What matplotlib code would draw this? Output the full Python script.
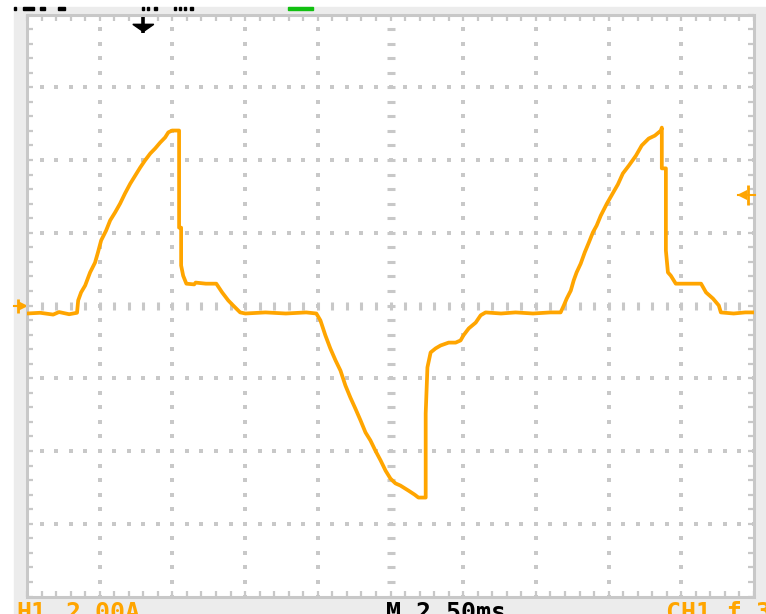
import numpy as np
import matplotlib.pyplot as plt
from matplotlib.patches import Rectangle, Polygon

# CH1 current trace
time_ms = [0.00, 0.45, 0.90, 1.10, 1.45, 1.72,
           1.76, 1.86, 2.00, 2.17, 2.34, 2.44, 2.55, 2.72, 2.86, 3.03, 3.20, 3.37,
           3.55, 3.72, 3.89, 4.06, 4.24, 4.41, 4.58, 4.75, 4.86, 4.99, 5.23, 5.23,
           5.30, 5.30, 5.37, 5.48, 5.75, 5.80, 6.15, 6.51, 6.71, 6.92, 7.09, 7.33,
           7.51, 8.20, 8.90, 9.60, 9.95, 10.09, 10.26, 10.43, 10.61, 10.78, 10.95,
           11.12, 11.29, 11.47, 11.64, 11.81, 11.98, 12.16, 12.33, 12.50, 12.67,
           12.84, 13.12, 13.33, 13.46, 13.71, 13.71, 13.77, 13.88, 14.05, 14.22,
           14.50, 14.74, 14.91, 15.01, 15.19, 15.43, 15.60, 15.77, 16.30, 16.80,
           17.40, 18.00, 18.35, 18.46, 18.56, 18.70, 18.80, 18.90, 19.04, 19.18,
           19.32, 19.46, 19.59, 19.73, 19.94, 20.14, 20.32, 20.49, 20.70, 20.94,
           21.14, 21.38, 21.59, 21.80, 21.83, 21.83, 21.97, 21.97, 22.04, 22.14,
           22.31, 22.70, 23.18, 23.35, 23.59, 23.79, 23.86, 24.30, 24.70, 25.00]
current_a = [-0.22, -0.20, -0.25, -0.18, -0.24, -0.20,
             0.14, 0.36, 0.55, 0.91, 1.18, 1.46, 1.79, 2.06, 2.34, 2.56, 2.80, 3.08,
             3.35, 3.57, 3.79, 3.99, 4.18, 4.32, 4.48, 4.62, 4.76, 4.81, 4.81, 2.14,
             2.14, 1.10, 0.82, 0.60, 0.58, 0.63, 0.60, 0.60, 0.36, 0.14, 0.00, -0.19,
             -0.22, -0.19, -0.22, -0.19, -0.22, -0.41, -0.82, -1.18, -1.51, -1.79, -2.20,
             -2.53, -2.83, -3.16, -3.49, -3.71, -3.99, -4.26, -4.54, -4.76, -4.89,
             -4.95, -5.09, -5.20, -5.28, -5.28, -2.97, -1.70, -1.29, -1.18, -1.10,
             -1.02, -1.02, -0.96, -0.82, -0.63, -0.47, -0.27, -0.19, -0.22, -0.19,
             -0.22, -0.19, -0.19, 0.00, 0.19, 0.41, 0.69, 0.91, 1.15, 1.46,
             1.73, 2.01, 2.20, 2.47, 2.80, 3.08, 3.33, 3.63, 3.85, 4.12,
             4.40, 4.59, 4.67, 4.81, 4.89, 3.77, 3.77, 1.51, 0.91, 0.82,
             0.60, 0.60, 0.60, 0.36, 0.19, 0.00, -0.19, -0.22, -0.19, -0.19]

ms_per_div = 2.5
amps_per_div = 2.0
trigger_time = 4.0
trigger_level = 3.05

ch1_label = "H1"
ch1_scale = "2.00A"
timebase_label = "M 2.50ms"
trigger_label = "CH1 ƒ 3.04A"

trace_color = '#ffa500'
grid_color = '#c8c8c8'
W, H = 766, 614


def fig_x(px):
    return px / W


def fig_y(py):
    return 1 - py / H


fig = plt.figure(figsize=(W / 100, H / 100), dpi=100)
fig.patches.append(Rectangle((fig_x(14), 0), 1 - fig_x(14), fig_y(7),
                             transform=fig.transFigure, color='#ececec', zorder=-10))

# cut-off status bar remnants at the top
for x0, x1, c in [(14, 16, 'k'), (23, 34, 'k'), (40, 45, 'k'), (58, 65, 'k'),
                  (142, 144, 'k'), (147, 149, 'k'), (154, 157, 'k'),
                  (174, 176, 'k'), (179, 181, 'k'), (184, 186, 'k'), (190, 193, 'k'),
                  (288, 313, '#10c010')]:
    fig.patches.append(Rectangle((fig_x(x0), fig_y(9.5)), (x1 - x0) / W, 2.5 / H,
                                 transform=fig.transFigure, color=c, zorder=-5))

ax = fig.add_axes([fig_x(27), fig_y(596.5), 727 / W, 582 / H])
x_max = 10 * ms_per_div
y_max = 4 * amps_per_div
ax.set_xlim(0, x_max)
ax.set_ylim(-y_max, y_max)
ax.set_facecolor('white')
for s in ax.spines.values():
    s.set_color(grid_color)
    s.set_linewidth(2.2)

minor_x = np.arange(0, x_max + 0.01, ms_per_div / 5)
minor_y = np.arange(-y_max, y_max + 0.01, amps_per_div / 5)
ax.set_xticks(minor_x)
ax.set_yticks(minor_y)
ax.tick_params(axis='both', direction='in', top=True, right=True,
               labelbottom=False, labelleft=False,
               length=4, width=1.6, color=grid_color)

# dotted graticule
for k in [1, 2, 3, 4, 6, 7, 8, 9]:
    ax.plot(np.full(len(minor_y), k * ms_per_div), minor_y, ls='none', marker='s',
            ms=2.2, mew=0, color=grid_color)
for k in [-3, -2, -1, 1, 2, 3]:
    ax.plot(minor_x, np.full(len(minor_x), k * amps_per_div), ls='none', marker='s',
            ms=2.2, mew=0, color=grid_color)
# centre cross
ax.plot(np.full(len(minor_y), x_max / 2), minor_y, ls='none', marker='_',
        ms=6, mew=2.2, color=grid_color)
ax.plot(minor_x, np.zeros(len(minor_x)), ls='none', marker='|',
        ms=6, mew=2.2, color=grid_color)

ax.plot(time_ms, current_a, color=trace_color, lw=2.7, zorder=5)

# ground marker (left) and trigger level marker (right)
ax.plot([-0.45, 0.0], [0, 0], color=trace_color, lw=1.5, clip_on=False)
ax.plot([-0.31], [0], marker='|', ms=10, mew=2, color=trace_color, clip_on=False)
ax.plot([-0.15], [0], marker='>', ms=7, mew=0, color=trace_color, clip_on=False)
ax.plot([x_max - 0.55, x_max + 0.05], [trigger_level, trigger_level],
        color=trace_color, lw=1.5, clip_on=False, zorder=6)
ax.plot([x_max - 0.22], [trigger_level], marker='|', ms=14, mew=2,
        color=trace_color, clip_on=False, zorder=6)
ax.plot([x_max - 0.42], [trigger_level], marker='<', ms=7, mew=0,
        color=trace_color, clip_on=False, zorder=6)

# trigger position marker (top)
ax.plot([trigger_time, trigger_time], [y_max, y_max - 0.5], color='k', lw=2.6,
        solid_capstyle='butt')
ax.add_patch(Polygon([(trigger_time - 0.36, y_max - 0.27),
                      (trigger_time + 0.36, y_max - 0.27),
                      (trigger_time, y_max - 0.47)], closed=True, color='k'))

# cut-off readouts at the bottom
font = dict(family='DejaVu Sans Mono', weight='bold', size=18, va='baseline')
fig.text(fig_x(16), fig_y(620), ch1_label, color=trace_color, **font)
fig.text(fig_x(66), fig_y(620), ch1_scale, color=trace_color, **font)
fig.text(fig_x(386), fig_y(620), timebase_label, color='k', **font)
fig.text(fig_x(666), fig_y(620), trigger_label, color=trace_color, **font)

fig.savefig('out.png', dpi=100)
